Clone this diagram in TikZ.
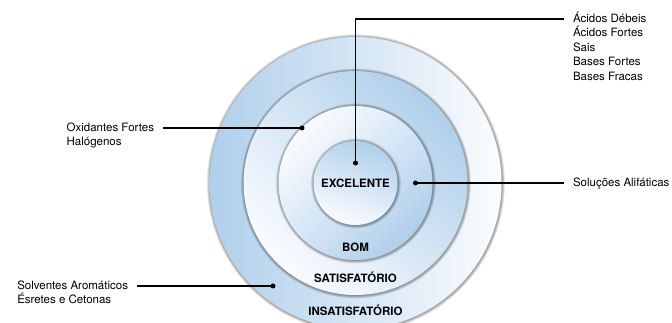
\documentclass[tikz,border=0pt]{standalone}
\usepackage{fontspec}
\setmainfont{TeX Gyre Heros}
\usetikzlibrary{positioning}

\definecolor{ringblue}{RGB}{176,207,234}
\definecolor{ringwhite}{RGB}{250,252,255}

\begin{document}
\begin{tikzpicture}[
  x=1pt, y=1pt,
  ring/.style={circle, inner sep=0pt, top color=ringblue, bottom color=ringwhite},
  ringlbl/.style={inner sep=0pt, font=\fontsize{11.5}{13}\selectfont\bfseries},
  lbl/.style={inner sep=0pt, outer xsep=9pt, outer ysep=0pt, text height=10.5pt, text depth=4pt, font=\fontsize{11.5}{14.5}\selectfont},
  dot/.style={circle, fill=black, inner sep=0pt, minimum size=5pt},
  link/.style={line width=1.3pt}
]
  \useasboundingbox (0,0) rectangle (672,323);
  \clip (0,0) rectangle (672,323);
  \coordinate (c) at (355.5,140);

  % rings, outside in, each with a soft rim
  \foreach \r/\a/\name in {146/90/insat, 112/-45/satis, 77/-135/bom, 42/-20/exc}{
    \foreach \k in {1,...,6}
      \fill[black, opacity=0.07] ([xshift=0.4pt, yshift=-0.4pt]c) circle ({\r+0.5*\k});
    \node[ring, shading angle=\a, minimum size=2*\r pt] (\name) at (c) {};
  }

  \node[ringlbl] (exclbl) at (c) {EXCELENTE};
  \node[ringlbl] (bomlbl) at ([yshift=13pt]bom.south) {BOM};
  \node[ringlbl] (satislbl) at ([yshift=18pt]satis.south) {SATISFATÓRIO};
  \node[ringlbl] (insatlbl) at ([yshift=19pt]insat.south) {INSATISFATÓRIO};

  % points on the rings
  \node[dot] (pexc) at ([yshift=20pt]c) {};
  \node[dot] (pbom) at ([xshift=60pt]c) {};
  \node[dot] (psatis) at (302,195) {};
  \node[dot] (pinsat) at (273,37) {};

  % labels
  \node[lbl, anchor=west] (acid1) at (564,304) {Ácidos Débeis};
  \node[lbl, below=0pt of acid1.south west, anchor=north west] (acid2) {Ácidos Fortes};
  \node[lbl, below=0pt of acid2.south west, anchor=north west] (acid3) {Sais};
  \node[lbl, below=0pt of acid3.south west, anchor=north west] (acid4) {Bases Fortes};
  \node[lbl, below=0pt of acid4.south west, anchor=north west] (acid5) {Bases Fracas};
  \node[lbl, anchor=west] (alif) at (564,140) {Soluções Alifáticas};
  \node[lbl, anchor=east] (oxi1) at (163,195) {Oxidantes Fortes};
  \node[lbl, below=0pt of oxi1.south west, anchor=north west] (oxi2) {Halógenos};
  \node[lbl, anchor=east] (solv1) at (137,37) {Solventes Aromáticos};
  \node[lbl, below=0pt of solv1.south west, anchor=north west] (solv2) {Ésretes e Cetonas};

  \draw[link] (pexc.center) |- (acid1.west);
  \draw[link] (pbom.center) -- (alif.west);
  \draw[link] (psatis.center) -- (oxi1.east);
  \draw[link] (pinsat.center) -- (solv1.east);
\end{tikzpicture}
\end{document}
